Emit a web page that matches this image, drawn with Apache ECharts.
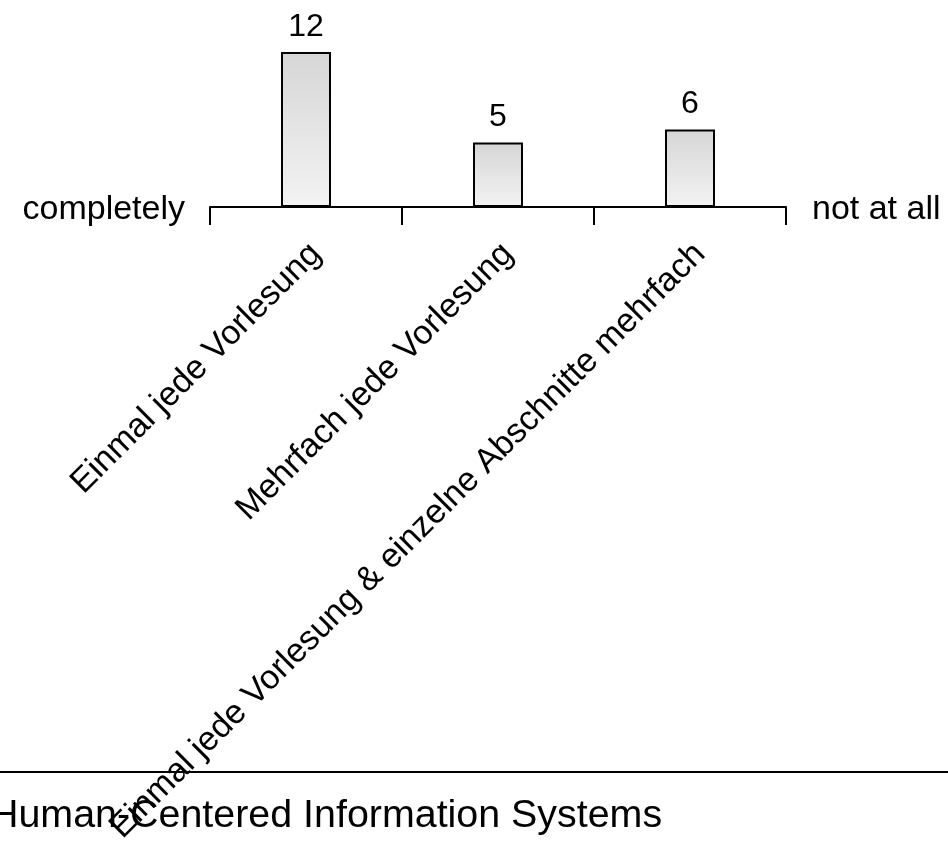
<!DOCTYPE html>
<html>
<head>
<meta charset="utf-8">
<script src="https://cdn.jsdelivr.net/npm/echarts@6/dist/echarts.min.js"></script>
<style>
  html, body { margin: 0; padding: 0; background: #fff; }
  #chart { width: 948px; height: 847px; }
</style>
</head>
<body>
<div id="chart"></div>
<script>
const categories = [
  "Einmal jede Vorlesung",
  "Mehrfach jede Vorlesung",
  "Einmal jede Vorlesung & einzelne Abschnitte mehrfach"
];
const counts = [12, 5, 6];
const leftLabel = "completely";
const rightLabel = "not at all";
const footer = "Human-Centered Information Systems";

const font = "Liberation Sans, Arial, sans-serif";
const chart = echarts.init(document.getElementById("chart"));

// second grid only carries the rotated labels, nudged a little to the right
chart.setOption({
  animation: false,
  grid: [
    { left: 210, top: 52, width: 576, height: 155 },
    { left: 220, top: 52, width: 576, height: 155 }
  ],
  xAxis: [{
    type: "category",
    data: categories,
    axisLine: { lineStyle: { color: "#000", width: 2 } },
    axisTick: { show: true, interval: 0, length: 18, lineStyle: { color: "#000", width: 2 } },
    axisLabel: { show: false }
  }, {
    type: "category",
    gridIndex: 1,
    data: categories,
    axisLine: { show: false },
    axisTick: { show: false },
    axisLabel: {
      rotate: 45,
      interval: 0,
      margin: 48,
      color: "#000",
      fontSize: 34,
      fontFamily: font
    }
  }],
  yAxis: [
    { type: "value", min: 0, max: 12, show: false },
    { type: "value", min: 0, max: 12, show: false, gridIndex: 1 }
  ],
  series: [{
    type: "bar",
    data: counts,
    barWidth: 50,
    itemStyle: {
      borderColor: "#000",
      borderWidth: 2,
      color: new echarts.graphic.LinearGradient(0, 0, 0, 1, [
        { offset: 0, color: "#d6d6d6" },
        { offset: 1, color: "#f3f3f3" }
      ])
    },
    label: {
      show: true,
      position: "top",
      distance: 9,
      color: "#000",
      fontSize: 32,
      fontFamily: font
    }
  }],
  graphic: [
    { type: "text", right: 948 - 185, top: 193,
      style: { text: leftLabel, fontSize: 34, fontFamily: font, fill: "#000" } },
    { type: "text", left: 812, top: 193,
      style: { text: rightLabel, fontSize: 34, fontFamily: font, fill: "#000" } },
    { type: "line", shape: { x1: 0, y1: 772, x2: 948, y2: 772 },
      style: { stroke: "#000", lineWidth: 2 } },
    { type: "text", x: -10, y: 797,
      style: { text: footer, fontSize: 39.4, fontFamily: font, fill: "#000" } }
  ]
});
</script>
</body>
</html>
